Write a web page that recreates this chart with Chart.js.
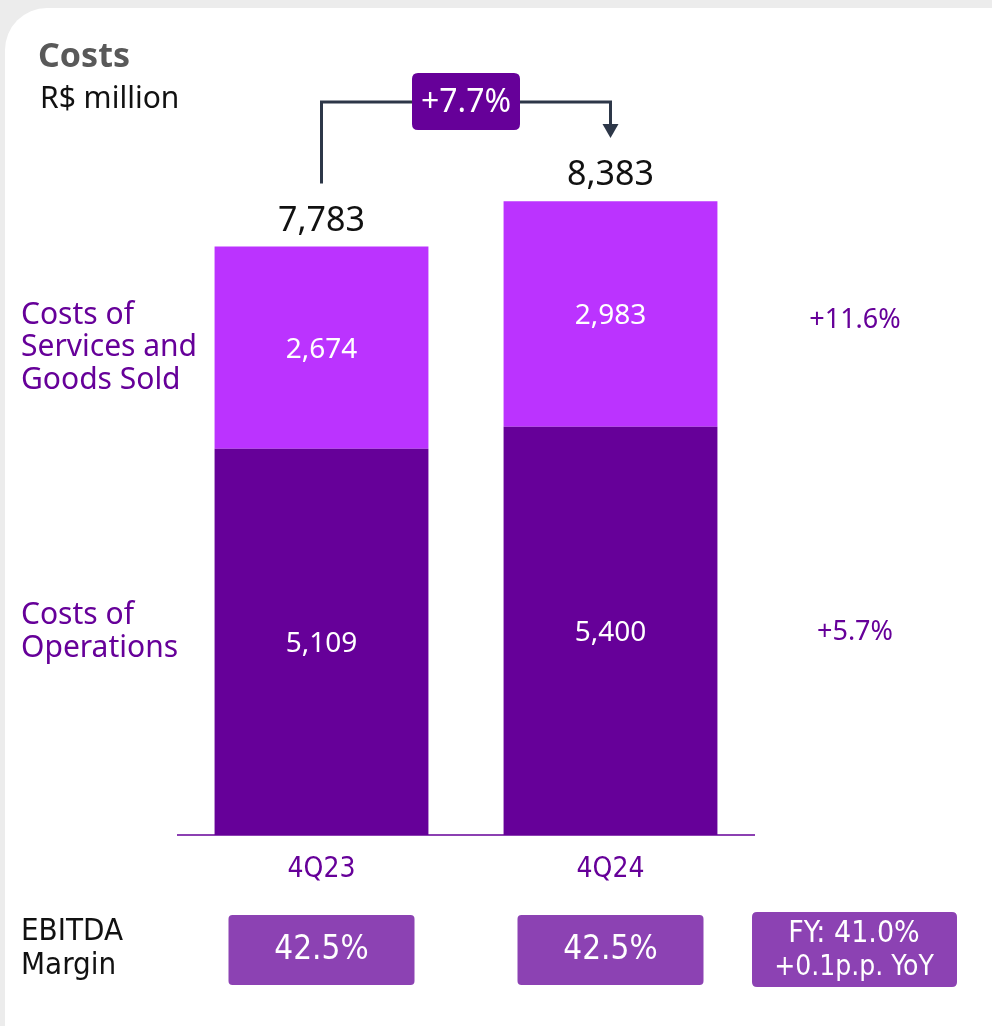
<!DOCTYPE html>
<html>
<head>
<meta charset="utf-8">
<script src="https://cdn.jsdelivr.net/npm/chart.js@4"></script>
<style>
  html, body { margin: 0; padding: 0; background: #ececec; }
  #wrap { position: relative; width: 992px; height: 1026px; overflow: hidden; }
  #card { position: absolute; left: 5px; top: 8px; width: 1030px; height: 1070px; background: #fff; border-radius: 42px; }
  canvas { position: absolute; left: 0; top: 0; }
</style>
</head>
<body>
<div id="wrap">
  <div id="card"></div>
  <canvas id="c" width="992" height="1026"></canvas>
</div>
<script>
const categories = ['4Q23', '4Q24'];
const costsOperations = [5109, 5400];
const costsServicesGoods = [2674, 2983];
const totals = [7783, 8383];
const seriesNames = [['Costs of', 'Operations'], ['Costs of', 'Services and', 'Goods Sold']];
const seriesGrowth = ['+5.7%', '+11.6%'];
const totalGrowth = '+7.7%';
const ebitdaMargin = ['42.5%', '42.5%'];
const ebitdaFY = ['FY: 41.0%', '+0.1p.p. YoY'];

const PURPLE_DARK = '#660099';
const PURPLE_LIGHT = '#bb33ff';
const BOX = '#8c42b3';
const FONT = '"Noto Sans", sans-serif';
const NARROW = '"DejaVu Sans Condensed", "Liberation Sans Narrow", sans-serif';

function roundRect(ctx, x, y, w, h, r) {
  ctx.beginPath();
  ctx.moveTo(x + r, y);
  ctx.lineTo(x + w - r, y);
  ctx.quadraticCurveTo(x + w, y, x + w, y + r);
  ctx.lineTo(x + w, y + h - r);
  ctx.quadraticCurveTo(x + w, y + h, x + w - r, y + h);
  ctx.lineTo(x + r, y + h);
  ctx.quadraticCurveTo(x, y + h, x, y + h - r);
  ctx.lineTo(x, y + r);
  ctx.quadraticCurveTo(x, y, x + r, y);
  ctx.closePath();
}

const annotations = {
  id: 'annotations',
  afterDatasetsDraw(chart) {
    const ctx = chart.ctx;
    const xs = chart.scales.x, ys = chart.scales.y;
    const area = chart.chartArea;
    ctx.save();

    // axis baseline
    ctx.strokeStyle = PURPLE_DARK;
    ctx.lineWidth = 1.5;
    ctx.beginPath();
    ctx.moveTo(area.left, ys.getPixelForValue(0));
    ctx.lineTo(area.right, ys.getPixelForValue(0));
    ctx.stroke();

    // segment labels
    ctx.textAlign = 'center';
    ctx.textBaseline = 'middle';
    ctx.fillStyle = '#ffffff';
    ctx.font = '28px ' + FONT;
    chart.data.datasets.forEach((ds, di) => {
      const meta = chart.getDatasetMeta(di);
      meta.data.forEach((bar, i) => {
        ctx.fillText(ds.data[i].toLocaleString('en-US'), bar.x, (bar.y + bar.base) / 2 + 2);
      });
    });

    // totals
    ctx.fillStyle = '#111111';
    ctx.font = '34px ' + FONT;
    ctx.textBaseline = 'alphabetic';
    totals.forEach((t, i) => {
      ctx.fillText(t.toLocaleString('en-US'), xs.getPixelForValue(i), ys.getPixelForValue(t) - 16);
    });

    // category labels
    ctx.fillStyle = PURPLE_DARK;
    ctx.font = '28px ' + NARROW;
    ctx.textBaseline = 'middle';
    categories.forEach((c, i) => {
      ctx.fillText(c, xs.getPixelForValue(i), ys.getPixelForValue(0) + 35);
    });

    // series names on left
    ctx.textAlign = 'left';
    ctx.font = '30px ' + FONT;
    const metaOps = chart.getDatasetMeta(0).data[0];
    const metaSvc = chart.getDatasetMeta(1).data[0];
    const nameShift = [-10, 0];
    [metaOps, metaSvc].forEach((bar, si) => {
      const lines = seriesNames[si];
      const cy = (bar.y + bar.base) / 2 + nameShift[si];
      const lh = 32.5;
      const y0 = cy - (lines.length - 1) * lh / 2;
      lines.forEach((l, k) => ctx.fillText(l, 21, y0 + k * lh));
    });

    // growth on right
    ctx.textAlign = 'center';
    ctx.font = '27px ' + FONT;
    const last = categories.length - 1;
    const gShift = [1, 6];
    [0, 1].forEach(si => {
      const bar = chart.getDatasetMeta(si).data[last];
      ctx.fillText(seriesGrowth[si], 855, (bar.y + bar.base) / 2 + gShift[si]);
    });

    // title
    ctx.textAlign = 'left';
    ctx.fillStyle = '#595959';
    ctx.font = 'bold 34px ' + FONT;
    ctx.fillText('Costs', 38, 57);
    ctx.fillStyle = '#111111';
    ctx.font = '30px ' + FONT;
    ctx.fillText('R$ million', 40, 99);

    // bracket arrow
    const x0 = xs.getPixelForValue(0), x1 = xs.getPixelForValue(1);
    const yTop = 102;
    ctx.strokeStyle = '#2d3748';
    ctx.lineWidth = 3;
    ctx.beginPath();
    ctx.moveTo(x0, ys.getPixelForValue(totals[0]) - 63);
    ctx.lineTo(x0, yTop);
    ctx.lineTo(x1, yTop);
    ctx.lineTo(x1, 126);
    ctx.stroke();
    ctx.fillStyle = '#2d3748';
    ctx.beginPath();
    ctx.moveTo(x1 - 8, 124);
    ctx.lineTo(x1 + 8, 124);
    ctx.lineTo(x1, 138);
    ctx.closePath();
    ctx.fill();

    // growth box
    ctx.fillStyle = PURPLE_DARK;
    roundRect(ctx, 412, 73, 108, 57, 6);
    ctx.fill();
    ctx.fillStyle = '#ffffff';
    ctx.font = '32px ' + FONT;
    ctx.textAlign = 'center';
    ctx.textBaseline = 'middle';
    ctx.fillText(totalGrowth, 466, 103);

    // EBITDA row
    ctx.textAlign = 'left';
    ctx.fillStyle = '#111111';
    ctx.font = '31px ' + NARROW;
    ctx.fillText('EBITDA', 21, 932);
    ctx.fillText('Margin', 21, 966);

    ebitdaMargin.forEach((m, i) => {
      const cx = xs.getPixelForValue(i);
      ctx.fillStyle = BOX;
      roundRect(ctx, cx - 93, 915, 186, 70, 4);
      ctx.fill();
      ctx.fillStyle = '#ffffff';
      ctx.textAlign = 'center';
      ctx.font = '33px ' + NARROW;
      ctx.fillText(m, cx, 950);
    });
    ctx.fillStyle = BOX;
    roundRect(ctx, 752, 912, 205, 75, 5);
    ctx.fill();
    ctx.fillStyle = '#ffffff';
    ctx.font = '30px ' + NARROW;
    ctx.fillText(ebitdaFY[0], 854, 934);
    ctx.font = '28px ' + NARROW;
    ctx.fillText(ebitdaFY[1], 854, 968);

    ctx.restore();
  }
};

new Chart(document.getElementById('c'), {
  type: 'bar',
  data: {
    labels: categories,
    datasets: [
      { label: 'Costs of Operations', data: costsOperations, backgroundColor: PURPLE_DARK, borderWidth: 0 },
      { label: 'Costs of Services and Goods Sold', data: costsServicesGoods, backgroundColor: PURPLE_LIGHT, borderWidth: 0 }
    ]
  },
  options: {
    responsive: false,
    animation: false,
    layout: { padding: { left: 177, right: 237, top: 79, bottom: 191 } },
    datasets: { bar: { categoryPercentage: 1.0, barPercentage: 0.74 } },
    scales: {
      x: { stacked: true, display: false },
      y: { stacked: true, display: false, min: 0, max: 10000 }
    },
    plugins: { legend: { display: false }, tooltip: { enabled: false } }
  },
  plugins: [annotations]
});
</script>
</body>
</html>
